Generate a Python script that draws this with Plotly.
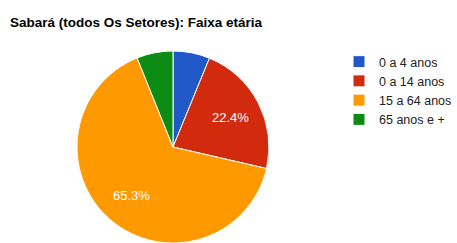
import math
import plotly.graph_objects as go

categories = ["0 a 4 anos", "0 a 14 anos", "15 a 64 anos", "65 anos e +"]
values = [6.2, 22.4, 65.3, 6.1]
colors = ["#2058c8", "#d22a0c", "#ff9900", "#0c8c14"]
show_label = [False, True, True, False]

W, H = 457, 243
cx, cy, r = 173, 147, 96

fig = go.Figure(go.Pie(
    labels=categories,
    values=values,
    sort=False,
    direction="clockwise",
    rotation=0,
    marker=dict(colors=colors, line=dict(color="white", width=1)),
    textinfo="none",
    hoverinfo="label+percent",
    domain=dict(x=[(cx - r) / W, (cx + r) / W], y=[(H - cy - r) / H, (H - cy + r) / H]),
))

# percentage labels placed along each slice's mid-angle (derived from the data)
total = sum(values)
cum = 0.0
annotations = []
for v, show in zip(values, show_label):
    mid = (cum + v / 2) / total * 2 * math.pi
    cum += v
    if not show:
        continue
    d = 0.67 * r
    px = cx + d * math.sin(mid)
    py = cy - d * math.cos(mid)
    annotations.append(dict(
        x=px / W, y=1 - py / H, xref="paper", yref="paper",
        text=f"{v / total * 100:.1f}%", showarrow=False,
        font=dict(family="Arial, Liberation Sans", size=13, color="white"),
        xanchor="center", yanchor="middle",
    ))

fig.update_layout(
    width=W, height=H,
    margin=dict(l=0, r=0, t=0, b=0),
    paper_bgcolor="white",
    plot_bgcolor="white",
    title=dict(text="<b>Sabará (todos Os Setores): Faixa etária</b>",
               x=10 / W, xanchor="left", y=1 - 22 / H, yanchor="middle",
               font=dict(family="Arial, Liberation Sans", size=13.5, color="#000")),
    legend=dict(x=1, xanchor="right", y=1 - 47 / H, yanchor="top",
                font=dict(family="Arial, Liberation Sans", size=12.5, color="#222"),
                itemwidth=30),
    showlegend=True,
    annotations=annotations,
)

fig.write_html("out.html", config={"displayModeBar": False},
               post_script="document.body.style.margin='0';")
